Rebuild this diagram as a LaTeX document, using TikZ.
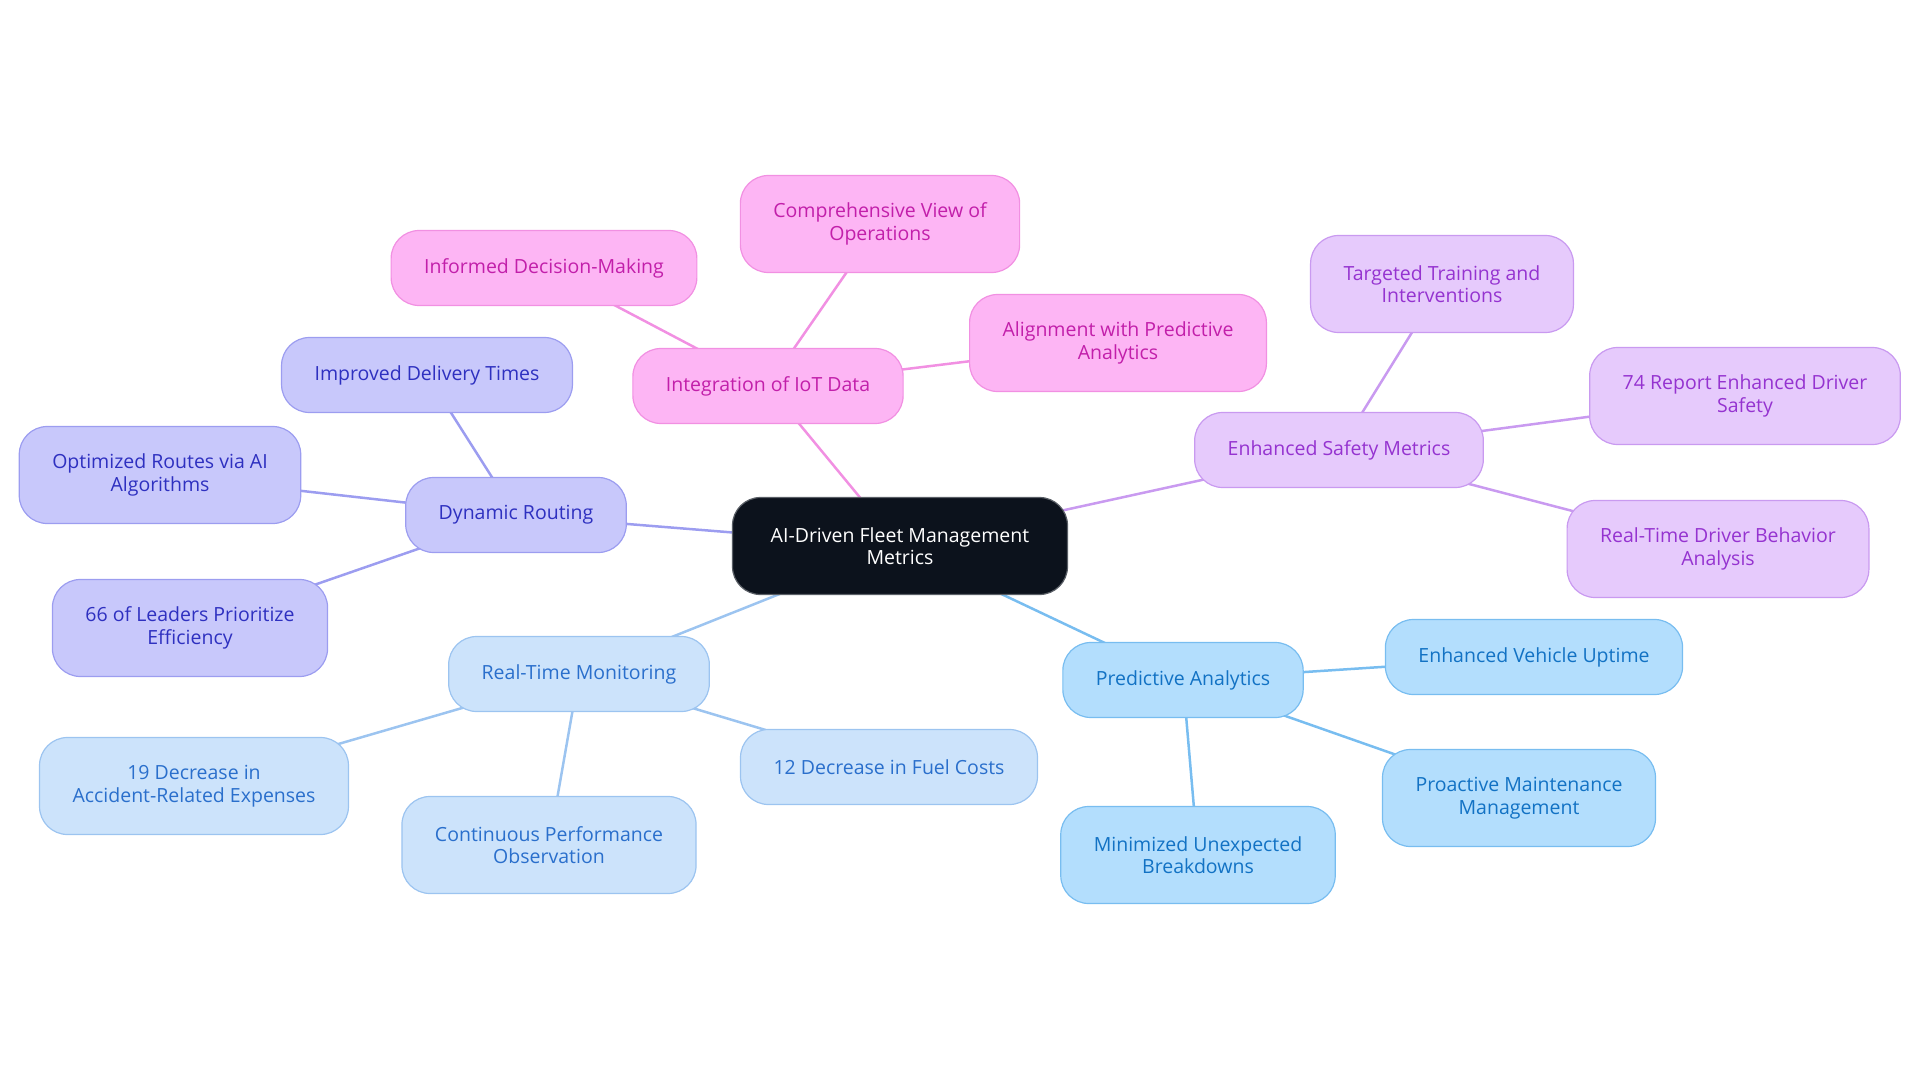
\documentclass[tikz,border=0pt]{standalone}
\usepackage{fontspec}
\setmainfont{Open Sans}
\usetikzlibrary{backgrounds}
\definecolor{rootfill}{HTML}{0C121C}
\definecolor{rootline}{HTML}{5A5F66}
\definecolor{iotfill}{HTML}{FDB5F4}
\definecolor{iotline}{HTML}{F190E2}
\definecolor{iottext}{HTML}{C21FAA}
\definecolor{safefill}{HTML}{E6CAFC}
\definecolor{safeline}{HTML}{C99AF0}
\definecolor{safetext}{HTML}{9533D0}
\definecolor{predfill}{HTML}{B3DEFD}
\definecolor{predline}{HTML}{78BDF0}
\definecolor{predtext}{HTML}{1272C4}
\definecolor{monfill}{HTML}{CCE3FB}
\definecolor{monline}{HTML}{9CC4F0}
\definecolor{montext}{HTML}{2A6FCC}
\definecolor{routefill}{HTML}{C8C8FB}
\definecolor{routeline}{HTML}{9C9DF0}
\definecolor{routetext}{HTML}{2E30C0}
\begin{document}
\begin{tikzpicture}[x=1pt,y=-1pt]
\tikzstyle{every node}+=[font=\fontsize{19.5}{22.5}\selectfont,align=center,rounded corners=28pt,line width=1.2pt,minimum height=75pt,inner xsep=33pt]
\tikzstyle{tall}=[minimum height=97pt]
\tikzstyle{root}=[fill=rootfill,draw=rootline,text=white,minimum width=335pt,minimum height=97pt]
\tikzstyle{iot}=[fill=iotfill,draw=iotline,text=iottext]
\tikzstyle{safe}=[fill=safefill,draw=safeline,text=safetext]
\tikzstyle{pred}=[fill=predfill,draw=predline,text=predtext]
\tikzstyle{mon}=[fill=monfill,draw=monline,text=montext]
\tikzstyle{route}=[fill=routefill,draw=routeline,text=routetext]
\tikzstyle{link}=[line width=2.5pt]
\useasboundingbox (0,0) rectangle (1920,1083);
\node[root] (fleet) at (900,546) {AI-Driven Fleet Management\\Metrics};
\node[iot] (iotdata) at (768,386) {Integration of IoT Data};
\node[iot] (informed) at (544,268) {Informed Decision-Making};
\node[iot,tall] (compview) at (880,224) {Comprehensive View of\\Operations};
\node[iot,tall] (alignpred) at (1118,343) {Alignment with Predictive\\Analytics};
\node[safe] (safety) at (1339,450) {Enhanced Safety Metrics};
\node[safe,tall] (training) at (1442,284) {Targeted Training and\\Interventions};
\node[safe,tall] (report74) at (1745,396) {74 Report Enhanced Driver\\Safety};
\node[safe,tall] (behavior) at (1718,549) {Real-Time Driver Behavior\\Analysis};
\node[pred] (predict) at (1183,680) {Predictive Analytics};
\node[pred] (uptime) at (1534,657) {Enhanced Vehicle Uptime};
\node[pred,tall] (proactive) at (1519,798) {Proactive Maintenance\\Management};
\node[pred,tall] (breakdown) at (1198,855) {Minimized Unexpected\\Breakdowns};
\node[mon] (monitor) at (579,674) {Real-Time Monitoring};
\node[mon] (fuel) at (889,767) {12 Decrease in Fuel Costs};
\node[mon,tall] (observe) at (549,845) {Continuous Performance\\Observation};
\node[mon,tall] (accident) at (194,786) {19 Decrease in\\Accident-Related Expenses};
\node[route] (routing) at (516,515) {Dynamic Routing};
\node[route] (delivery) at (427,375) {Improved Delivery Times};
\node[route,tall] (optroute) at (160,475) {Optimized Routes via AI\\Algorithms};
\node[route,tall] (leaders) at (190,628) {66 of Leaders Prioritize\\Efficiency};
\begin{pgfonlayer}{background}
\draw[link,iotline] (fleet.center) -- (iotdata.center);
\draw[link,iotline] (iotdata.center) -- (informed.center);
\draw[link,iotline] (iotdata.center) -- (compview.center);
\draw[link,iotline] (iotdata.center) -- (alignpred.center);
\draw[link,safeline] (fleet.center) -- (safety.center);
\draw[link,safeline] (safety.center) -- (training.center);
\draw[link,safeline] (safety.center) -- (report74.center);
\draw[link,safeline] (safety.center) -- (behavior.center);
\draw[link,predline] (fleet.center) -- (predict.center);
\draw[link,predline] (predict.center) -- (uptime.center);
\draw[link,predline] (predict.center) -- (proactive.center);
\draw[link,predline] (predict.center) -- (breakdown.center);
\draw[link,monline] (fleet.center) -- (monitor.center);
\draw[link,monline] (monitor.center) -- (fuel.center);
\draw[link,monline] (monitor.center) -- (observe.center);
\draw[link,monline] (monitor.center) -- (accident.center);
\draw[link,routeline] (fleet.center) -- (routing.center);
\draw[link,routeline] (routing.center) -- (delivery.center);
\draw[link,routeline] (routing.center) -- (optroute.center);
\draw[link,routeline] (routing.center) -- (leaders.center);
\end{pgfonlayer}
\end{tikzpicture}
\end{document}
